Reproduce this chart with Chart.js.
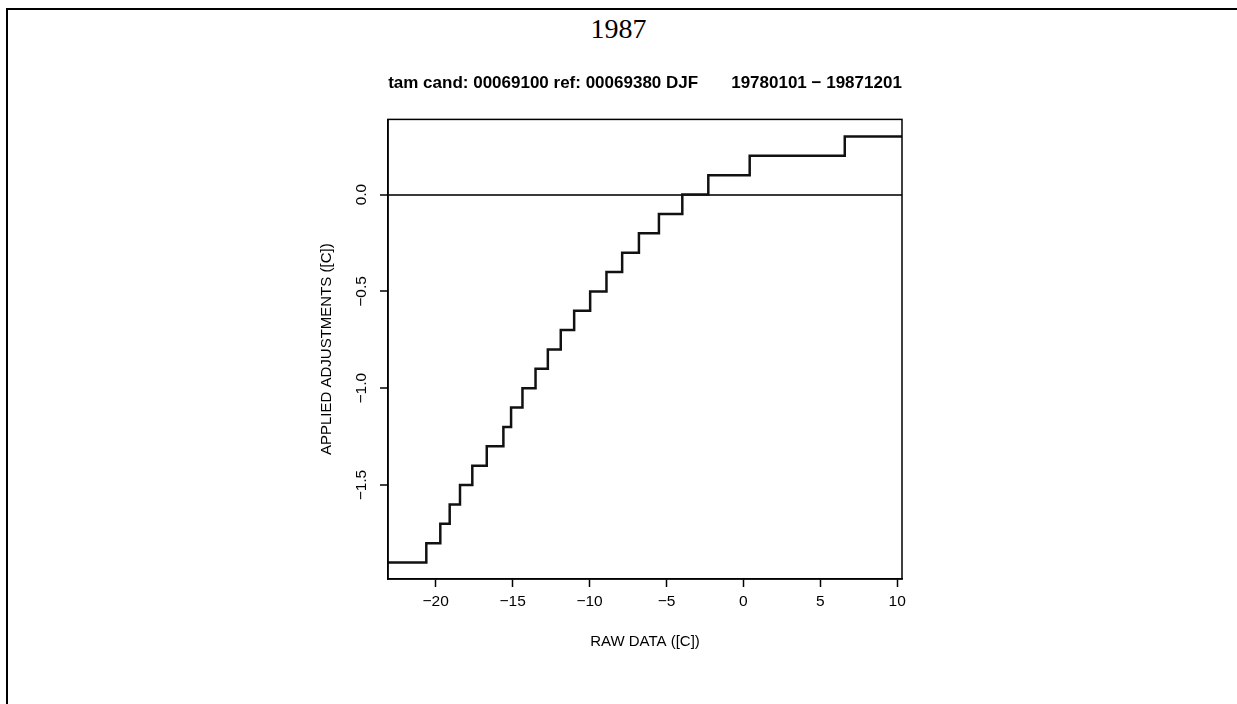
<!DOCTYPE html>
<html>
<head>
<meta charset="utf-8">
<title>1987</title>
<script src="https://cdn.jsdelivr.net/npm/chart.js@4/dist/chart.umd.min.js"></script>
<style>
  html, body { margin: 0; padding: 0; background: #fff; }
  body { width: 1237px; height: 704px; position: relative; overflow: hidden; }
  .frame { position: absolute; left: 6px; top: 8px; right: 0; bottom: 0; border-top: 2px solid #000; border-left: 2px solid #000; }
  .year { position: absolute; left: 0; top: 13px; width: 1237px; text-align: center;
          font-family: "Liberation Serif", "Times New Roman", serif; font-size: 28px; color: #000; }
  #wrap { position: absolute; left: 0; top: 0; width: 1237px; height: 704px; }
</style>
</head>
<body>
<div class="frame"></div>
<div class="year">1987</div>
<div id="wrap"><canvas id="adjChart" width="1237" height="704"></canvas></div>
<script>
// raw value (C) at which the applied adjustment steps up to the next level
const breaks = [-20.61, -19.70, -19.09, -18.42, -17.62, -16.68, -15.60, -15.10, -14.36, -13.51,
                -12.71, -11.87, -11.00, -9.96, -8.90, -7.88, -6.79, -5.49, -3.97, -2.28, 0.41, 6.59];
// adjustment levels (C), one more than the number of breaks
const levels = [-1.9, -1.8, -1.7, -1.6, -1.5, -1.4, -1.3, -1.2, -1.1, -1.0, -0.9, -0.8,
                -0.7, -0.6, -0.5, -0.4, -0.3, -0.2, -0.1, 0.0, 0.1, 0.2, 0.3];
const xRange = [-23.1, 10.31];
const yRange = [-1.985, 0.388];
const xTicks = [-20, -15, -10, -5, 0, 5, 10];
const yTicks = [-1.5, -1.0, -0.5, 0.0];

const FONT = '"Liberation Sans", Arial, Helvetica, sans-serif';
const minus = s => s.replace('-', '\u2212');

// staircase: flat at each level until the next break, running edge to edge
const stepPoints = [{ x: xRange[0], y: levels[0] }];
breaks.forEach((b, i) => stepPoints.push({ x: b, y: levels[i + 1] }));
stepPoints.push({ x: xRange[1], y: levels[levels.length - 1] });

// closed box around the plotting region
const boxFrame = {
  id: 'boxFrame',
  afterDatasetsDraw(chart) {
    const { ctx, chartArea: a } = chart;
    ctx.save();
    ctx.strokeStyle = '#000';
    ctx.lineWidth = 1.5;
    ctx.strokeRect(a.left, a.top, a.right - a.left, a.bottom - a.top);
    ctx.restore();
  }
};

const ctx = document.getElementById('adjChart').getContext('2d');
new Chart(ctx, {
  type: 'line',
  data: {
    datasets: [{
      label: 'adjustment',
      data: stepPoints,
      stepped: true,
      borderColor: '#111',
      borderWidth: 2.5,
      pointRadius: 0,
      fill: false
    }]
  },
  options: {
    responsive: false,
    animation: false,
    devicePixelRatio: 1,
    layout: { padding: { left: 300, right: 335, top: 60, bottom: 50 } },
    plugins: {
      legend: { display: false },
      tooltip: { enabled: false },
      title: {
        display: true,
        fullSize: false,
        text: 'tam cand: 00069100 ref: 00069380 DJF       19780101 \u2212 19871201',
        color: '#000',
        font: { family: FONT, size: 17, weight: 'bold' },
        padding: { top: 13, bottom: 26 }
      }
    },
    scales: {
      x: {
        type: 'linear',
        min: xRange[0],
        max: xRange[1],
        afterBuildTicks: axis => { axis.ticks = xTicks.map(v => ({ value: v })); },
        afterFit: scale => { scale.height = 75; },
        ticks: {
          color: '#000',
          font: { family: FONT, size: 15.5 },
          padding: 5,
          maxRotation: 0,
          callback: v => minus(String(v))
        },
        grid: { drawOnChartArea: false, tickLength: 8, tickColor: '#000', tickWidth: 1.5 },
        border: { display: true, color: '#000', width: 1.5 },
        title: {
          display: true,
          text: 'RAW DATA ([C])',
          color: '#000',
          font: { family: FONT, size: 15 },
          padding: { top: 0, bottom: 3 }
        }
      },
      y: {
        type: 'linear',
        min: yRange[0],
        max: yRange[1],
        afterBuildTicks: axis => { axis.ticks = yTicks.map(v => ({ value: v })); },
        afterFit: scale => { scale.width = 88; },
        ticks: {
          color: '#000',
          font: { family: FONT, size: 15.5 },
          minRotation: 90,
          maxRotation: 90,
          crossAlign: 'center',
          padding: 3,
          callback: v => minus(Number(v).toFixed(1))
        },
        grid: {
          drawOnChartArea: true,
          color: c => (c.tick && c.tick.value === 0) ? '#3a3a3a' : 'rgba(0,0,0,0)',
          lineWidth: 2,
          tickLength: 8,
          tickColor: '#000',
          tickWidth: 1.5
        },
        border: { display: true, color: '#000', width: 1.5 },
        title: {
          display: true,
          text: 'APPLIED ADJUSTMENTS ([C])',
          color: '#000',
          font: { family: FONT, size: 15 },
          padding: { top: 18, bottom: 0 }
        }
      }
    }
  },
  plugins: [boxFrame]
});
</script>
</body>
</html>
